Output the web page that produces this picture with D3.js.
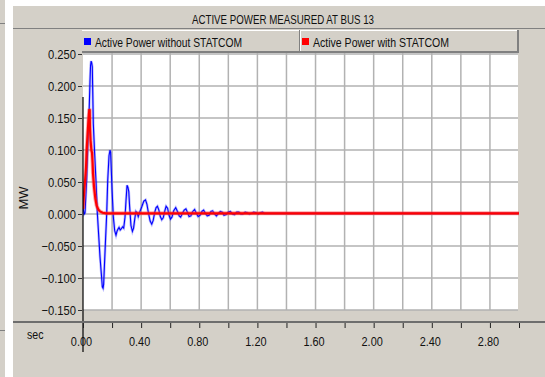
<!DOCTYPE html>
<html>
<head>
<meta charset="utf-8">
<script src="https://cdn.jsdelivr.net/npm/d3@7"></script>
<style>
    body { margin: 0; background: #ffffff; }
    svg { display: block; font-family: "Liberation Sans", Arial, sans-serif; }
</style>
</head>
<body>
<svg id="chart" width="545" height="377"></svg>
<script>
// series: [seconds, MW]
var withoutStatcom = [
    [0.000, 0.010], [0.008, 0.000], [0.014, 0.002], [0.020, 0.030], [0.025, 0.052],
    [0.032, 0.099], [0.038, 0.140], [0.043, 0.167], [0.048, 0.206], [0.052, 0.232],
    [0.056, 0.239], [0.060, 0.236], [0.064, 0.230], [0.066, 0.204], [0.071, 0.141],
    [0.080, 0.095], [0.090, 0.048], [0.099, 0.000], [0.110, -0.041], [0.117, -0.067],
    [0.126, -0.093], [0.133, -0.114], [0.138, -0.116], [0.142, -0.110], [0.147, -0.083],
    [0.154, -0.046], [0.163, 0.000], [0.170, 0.052], [0.179, 0.091], [0.186, 0.100],
    [0.190, 0.096], [0.193, 0.079], [0.200, 0.037], [0.209, -0.005], [0.218, -0.026],
    [0.227, -0.033], [0.234, -0.027], [0.240, -0.024], [0.248, -0.021], [0.256, -0.025],
    [0.264, -0.023], [0.272, -0.020], [0.280, -0.022], [0.289, -0.005], [0.296, 0.021],
    [0.303, 0.045], [0.309, 0.042], [0.315, 0.035], [0.321, 0.011], [0.330, -0.018],
    [0.340, -0.027], [0.348, -0.022], [0.356, -0.008], [0.364, 0.004], [0.372, 0.002],
    [0.380, -0.004], [0.390, 0.003], [0.404, 0.011], [0.418, 0.020], [0.430, 0.022],
    [0.440, 0.015], [0.450, 0.002], [0.462, -0.011], [0.473, -0.016], [0.483, -0.010],
    [0.493, 0.002], [0.503, 0.010], [0.512, 0.012], [0.522, 0.006], [0.532, -0.004],
    [0.542, -0.009], [0.552, -0.006], [0.562, 0.004], [0.572, 0.012], [0.582, 0.009],
    [0.592, -0.002], [0.602, -0.008], [0.612, -0.005], [0.624, 0.005], [0.638, 0.010],
    [0.650, 0.004], [0.662, -0.003], [0.672, -0.005], [0.684, 0.001], [0.696, 0.006],
    [0.708, 0.008], [0.720, 0.002], [0.730, -0.004], [0.742, -0.003], [0.755, 0.004],
    [0.768, 0.007], [0.780, 0.001], [0.792, -0.004], [0.805, -0.002], [0.818, 0.004],
    [0.830, 0.006], [0.842, 0.001], [0.855, -0.003], [0.868, -0.002], [0.880, 0.004],
    [0.892, 0.005], [0.905, 0.000], [0.918, -0.003], [0.932, 0.001], [0.945, 0.004],
    [0.958, 0.003], [0.970, -0.002], [0.985, -0.001], [1.000, 0.003], [1.014, 0.004],
    [1.028, 0.000], [1.042, -0.001], [1.058, 0.003], [1.072, 0.003], [1.086, 0.000],
    [1.100, 0.000], [1.116, 0.003], [1.130, 0.002], [1.145, 0.000], [1.160, 0.001],
    [1.175, 0.003], [1.190, 0.002], [1.205, 0.000], [1.220, 0.002], [1.235, 0.003],
    [1.250, 0.001], [1.270, 0.001], [1.300, 0.001], [3.000, 0.001]
];

var withStatcom = [
    [0.000, 0.008], [0.007, 0.032], [0.014, 0.052], [0.021, 0.073], [0.025, 0.099],
    [0.032, 0.126], [0.039, 0.151], [0.044, 0.164], [0.046, 0.162], [0.048, 0.134],
    [0.052, 0.115], [0.058, 0.099], [0.062, 0.096], [0.066, 0.080], [0.069, 0.063],
    [0.076, 0.042], [0.085, 0.024], [0.094, 0.013], [0.105, 0.007], [0.117, 0.004],
    [0.135, 0.002], [0.160, 0.001], [3.000, 0.001]
];

var seriesNames = ["Active Power without STATCOM", "Active Power with STATCOM"];
var seriesColors = ["#0000ff", "#ff0000"];
var yTicks = [0.25, 0.2, 0.15, 0.1, 0.05, 0, -0.05, -0.1, -0.15];
var xMinorTicks = [0, 0.2, 0.4, 0.6, 0.8, 1.0, 1.2, 1.4, 1.6, 1.8, 2.0, 2.2, 2.4, 2.6, 2.8, 3.0];
var xLabelTicks = [0, 0.4, 0.8, 1.2, 1.6, 2.0, 2.4, 2.8];
var titleText = "ACTIVE POWER MEASURED AT BUS 13";

var PANEL = "#d4d0c8";
var GRID = "#b2b2b2";
var DARK = "#808080";

var svg = d3.select("#chart");

var x = d3.scaleLinear().domain([0, 3]).range([83, 519]);
var y = d3.scaleLinear().domain([-0.15, 0.25]).range([310, 54]);

// squeeze text the way the original narrow font looks
function squeeze(sel, ratio) {
    sel.each(function() {
        var w = this.getComputedTextLength();
        d3.select(this)
            .attr("textLength", w * ratio)
            .attr("lengthAdjust", "spacingAndGlyphs");
    });
}

// window chrome
svg.append("rect").attr("x", 0).attr("y", 0).attr("width", 5).attr("height", 377).attr("fill", PANEL);
svg.append("line").attr("x1", 0).attr("x2", 5).attr("y1", 23.5).attr("y2", 23.5).attr("stroke", DARK);
svg.append("line").attr("x1", 0).attr("x2", 5).attr("y1", 330.5).attr("y2", 330.5).attr("stroke", DARK);
svg.append("rect").attr("x", 13).attr("y", 6).attr("width", 532).attr("height", 371).attr("fill", PANEL);
svg.append("line").attr("x1", 13).attr("x2", 545).attr("y1", 28.5).attr("y2", 28.5).attr("stroke", DARK);

svg.append("text")
    .attr("x", 283).attr("y", 24)
    .attr("text-anchor", "middle")
    .attr("font-size", 13)
    .attr("fill", "#111")
    .attr("textLength", 182)
    .attr("lengthAdjust", "spacingAndGlyphs")
    .text(titleText);

// plot area
svg.append("rect")
    .attr("x", x(0)).attr("y", 52)
    .attr("width", x(3) - x(0) - 1).attr("height", y(-0.15) - 52)
    .attr("fill", "#ffffff");

var grid = svg.append("g");
grid.selectAll(".hgrid")
    .data(yTicks)
    .enter().append("line")
    .attr("x1", x(0)).attr("x2", x(3) - 1)
    .attr("y1", function(d) { return y(d); })
    .attr("y2", function(d) { return y(d); })
    .attr("stroke", GRID).attr("stroke-width", 1.5);
grid.selectAll(".vgrid")
    .data(xMinorTicks.filter(function(d) { return d > 0 && d < 3; }))
    .enter().append("line")
    .attr("x1", function(d) { return x(d); })
    .attr("x2", function(d) { return x(d); })
    .attr("y1", 52).attr("y2", y(-0.15))
    .attr("stroke", GRID).attr("stroke-width", 1.5);

// curves
var line = d3.line()
    .x(function(d) { return x(d[0]); })
    .y(function(d) { return y(d[1]); });

svg.append("clipPath").attr("id", "plot-clip")
    .append("rect").attr("x", x(0)).attr("y", 52).attr("width", x(3) - x(0)).attr("height", y(-0.15) - 52);

var curves = svg.append("g").attr("clip-path", "url(#plot-clip)");
curves.append("path").datum(withoutStatcom)
    .attr("d", line).attr("fill", "none")
    .attr("stroke", "rgba(60,60,255,0.35)").attr("stroke-width", 2.6);
curves.append("path").datum(withoutStatcom)
    .attr("d", line).attr("fill", "none")
    .attr("stroke", seriesColors[0]).attr("stroke-width", 1.1);
curves.append("path").datum(withStatcom)
    .attr("d", line).attr("fill", "none")
    .attr("stroke", "rgba(255,60,60,0.45)").attr("stroke-width", 4);
curves.append("path").datum(withStatcom)
    .attr("d", line).attr("fill", "none")
    .attr("stroke", seriesColors[1]).attr("stroke-width", 2.2);

// legend strip across the top of the plot
var legend = svg.append("g");
legend.append("rect")
    .attr("x", 82).attr("y", 30).attr("width", 436).attr("height", 22)
    .attr("fill", PANEL);
legend.append("line").attr("x1", 82).attr("x2", 518).attr("y1", 30.5).attr("y2", 30.5).attr("stroke", "#ffffff");
legend.append("line").attr("x1", 82).attr("x2", 519).attr("y1", 52).attr("y2", 52).attr("stroke", DARK).attr("stroke-width", 2);
legend.append("line").attr("x1", 518).attr("x2", 518).attr("y1", 30).attr("y2", 53).attr("stroke", DARK).attr("stroke-width", 2);
legend.append("line").attr("x1", 299.5).attr("x2", 299.5).attr("y1", 30).attr("y2", 51).attr("stroke", DARK);
legend.append("line").attr("x1", 300.5).attr("x2", 300.5).attr("y1", 30).attr("y2", 51).attr("stroke", "#ffffff");

var legendX = [84, 302];
var legendWidths = [147, 136];
seriesNames.forEach(function(name, i) {
    legend.append("rect")
        .attr("x", legendX[i]).attr("y", 38).attr("width", 7).attr("height", 7)
        .attr("fill", seriesColors[i]);
    legend.append("text")
        .attr("x", legendX[i] + 11).attr("y", 47)
        .attr("font-size", 13).attr("fill", "#111")
        .attr("textLength", legendWidths[i])
        .attr("lengthAdjust", "spacingAndGlyphs")
        .text(name);
});

// y axis
var yAxis = svg.append("g")
    .attr("transform", "translate(82,0)")
    .call(d3.axisLeft(y).tickValues(yTicks).tickFormat(d3.format(".3f")).tickSize(4).tickPadding(2));
yAxis.select(".domain").remove();
yAxis.selectAll(".tick line").attr("stroke", "#333");
yAxis.selectAll(".tick text")
    .attr("font-size", 13).attr("fill", "#111")
    .attr("font-family", "Liberation Sans, Arial, sans-serif")
    .call(squeeze, 0.86);

// black cursor line at t = 0
svg.append("line")
    .attr("x1", x(0)).attr("x2", x(0))
    .attr("y1", 97).attr("y2", 352)
    .attr("stroke", "#000").attr("stroke-width", 1.2);

// separator above the time axis
svg.append("line").attr("x1", 13).attr("x2", 545).attr("y1", 322).attr("y2", 322)
    .attr("stroke", "#6e6e6e").attr("stroke-width", 2);

// x axis
var xAxis = svg.append("g")
    .attr("transform", "translate(0,323)")
    .call(d3.axisBottom(x).tickValues(xMinorTicks).tickSize(5).tickPadding(9)
        .tickFormat(function(d) {
            return xLabelTicks.some(function(v) { return Math.abs(v - d) < 1e-9; }) ? d3.format(".2f")(d) : "";
        }));
xAxis.select(".domain").remove();
xAxis.selectAll(".tick line").attr("stroke", "#222");
xAxis.selectAll(".tick text")
    .attr("font-size", 13).attr("fill", "#111")
    .attr("font-family", "Liberation Sans, Arial, sans-serif")
    .attr("dx", -2)
    .call(squeeze, 0.84);

svg.append("text")
    .attr("x", 27).attr("y", 339)
    .attr("font-size", 13).attr("fill", "#111")
    .attr("textLength", 16.5).attr("lengthAdjust", "spacingAndGlyphs")
    .text("sec");

svg.append("text")
    .attr("transform", "translate(28,198) rotate(-90)")
    .attr("text-anchor", "middle")
    .attr("font-size", 13).attr("fill", "#111")
    .text("MW");
</script>
</body>
</html>
